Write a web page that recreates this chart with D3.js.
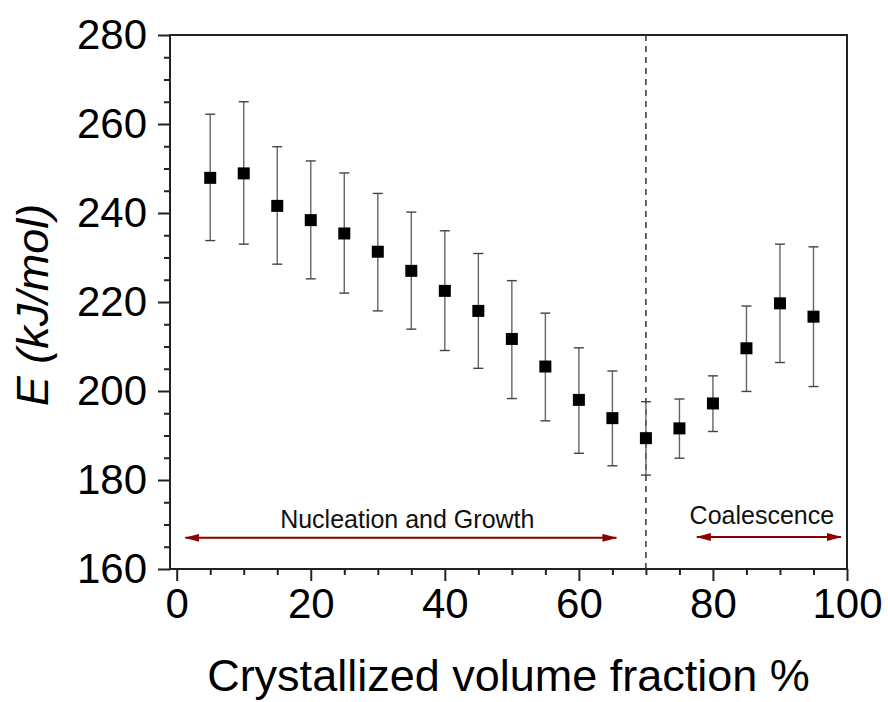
<!DOCTYPE html>
<html>
<head>
<meta charset="utf-8">
<script src="https://cdn.jsdelivr.net/npm/d3@7"></script>
<style>
  body { margin: 0; background: #fff; }
  svg { display: block; font-family: "Liberation Sans", Arial, sans-serif; }
</style>
</head>
<body>
<svg id="chart" width="888" height="702"></svg>
<script>
// crystallized volume fraction (%)
const fraction = [5, 10, 15, 20, 25, 30, 35, 40, 45, 50, 55, 60, 65, 70, 75, 80, 85, 90, 95];
// activation energy E (kJ/mol)
const energy = [247.9, 248.9, 241.6, 238.4, 235.4, 231.3, 227.0, 222.5, 218.0, 211.7, 205.5, 198.0, 193.9, 189.4, 191.6, 197.2, 209.6, 219.7, 216.7];
const errUpper = [262.2, 265.0, 254.9, 251.7, 249.0, 244.4, 240.2, 236.0, 230.9, 224.8, 217.5, 209.7, 204.5, 197.6, 198.2, 203.4, 219.1, 233.0, 232.4];
const errLower = [233.8, 233.0, 228.5, 225.2, 222.0, 218.0, 213.9, 209.1, 205.1, 198.3, 193.3, 186.0, 183.2, 181.1, 184.9, 190.9, 199.9, 206.4, 201.0];

const xTicks = [0, 20, 40, 60, 80, 100];
const yTicks = [160, 180, 200, 220, 240, 260, 280];
const boundary = 70;

// regions: label, arrow start, arrow end, arrow level, label position
const regionNames = ["Nucleation and Growth", "Coalescence"];
const regionFrom = [1.3, 77.6];
const regionTo = [65.6, 99.1];
const regionLevel = [167.0, 167.2];
const labelX = [34.4, 87.3];
const labelY = [169.3, 170.2];

const svg = d3.select("#chart");
const margin = { top: 35, right: 41, bottom: 133, left: 170 };
const width = 888 - margin.left - margin.right;
const height = 702 - margin.top - margin.bottom;

const x = d3.scaleLinear().domain([-1, 100]).range([margin.left, margin.left + width]);
const y = d3.scaleLinear().domain([160, 280]).range([margin.top + height, margin.top]);

const minorX = d3.range(0, 101, 5).filter(d => d % 20 !== 0);
const minorY = d3.range(160, 281, 5).filter(d => d % 20 !== 0);

// arrow head
svg.append("defs").append("marker")
  .attr("id", "head")
  .attr("viewBox", "0 0 15 8")
  .attr("refX", 14)
  .attr("refY", 4)
  .attr("markerWidth", 15)
  .attr("markerHeight", 8)
  .attr("markerUnits", "userSpaceOnUse")
  .attr("orient", "auto-start-reverse")
  .append("path")
  .attr("d", "M0,0 L15,4 L0,8 Z")
  .attr("fill", "#8b0000");

// frame
svg.append("rect")
  .attr("x", margin.left).attr("y", margin.top)
  .attr("width", width).attr("height", height)
  .attr("fill", "none").attr("stroke", "#222").attr("stroke-width", 2);

// x axis
const gx = svg.append("g")
  .attr("transform", "translate(0," + (margin.top + height) + ")")
  .call(d3.axisBottom(x).tickValues(xTicks).tickSize(12).tickPadding(7));
svg.append("g")
  .attr("transform", "translate(0," + (margin.top + height) + ")")
  .call(d3.axisBottom(x).tickValues(minorX).tickSize(6).tickFormat(""));

// y axis
const gy = svg.append("g")
  .attr("transform", "translate(" + margin.left + ",0)")
  .call(d3.axisLeft(y).tickValues(yTicks).tickSize(12).tickPadding(11));
svg.append("g")
  .attr("transform", "translate(" + margin.left + ",0)")
  .call(d3.axisLeft(y).tickValues(minorY).tickSize(6).tickFormat(""));

svg.selectAll(".domain").remove();
svg.selectAll(".tick line").attr("stroke", "#222").attr("stroke-width", 2);
svg.selectAll(".tick text")
  .attr("fill", "#000")
  .style("font-size", "42px")
  .style("font-family", "'Liberation Sans', Arial, sans-serif");

// axis titles
svg.append("text")
  .attr("x", margin.left + width / 2)
  .attr("y", 691)
  .attr("text-anchor", "middle")
  .style("font-size", "45px")
  .text("Crystallized volume fraction %");

const yt = svg.append("text")
  .attr("transform", "translate(48," + 305 + ") rotate(-90)")
  .attr("text-anchor", "middle")
  .style("font-size", "45px")
  .style("font-style", "italic");
yt.append("tspan").text("E (kJ/mol)");

// boundary line
svg.append("line")
  .attr("x1", x(boundary)).attr("x2", x(boundary))
  .attr("y1", margin.top).attr("y2", margin.top + height)
  .attr("stroke", "#333").attr("stroke-width", 1.5)
  .attr("stroke-dasharray", "6,5");

// region arrows and labels
regionNames.forEach((name, i) => {
  svg.append("line")
    .attr("x1", x(regionFrom[i])).attr("x2", x(regionTo[i]))
    .attr("y1", y(regionLevel[i])).attr("y2", y(regionLevel[i]))
    .attr("stroke", "#8b0000").attr("stroke-width", 2)
    .attr("marker-start", "url(#head)")
    .attr("marker-end", "url(#head)");
  svg.append("text")
    .attr("x", x(labelX[i])).attr("y", y(labelY[i]))
    .attr("text-anchor", "middle")
    .style("font-size", "25px")
    .attr("fill", "#111")
    .text(name);
});

// error bars
const bars = svg.append("g").selectAll("g")
  .data(fraction)
  .join("g");
bars.append("line")
  .attr("x1", d => x(d)).attr("x2", d => x(d))
  .attr("y1", (d, i) => y(errUpper[i])).attr("y2", (d, i) => y(errLower[i]))
  .attr("stroke", "#666").attr("stroke-width", 1.4);
bars.append("line")
  .attr("x1", d => x(d) - 5).attr("x2", d => x(d) + 5)
  .attr("y1", (d, i) => y(errUpper[i])).attr("y2", (d, i) => y(errUpper[i]))
  .attr("stroke", "#444").attr("stroke-width", 1.4);
bars.append("line")
  .attr("x1", d => x(d) - 5).attr("x2", d => x(d) + 5)
  .attr("y1", (d, i) => y(errLower[i])).attr("y2", (d, i) => y(errLower[i]))
  .attr("stroke", "#444").attr("stroke-width", 1.4);

// markers
svg.append("g").selectAll("rect")
  .data(fraction)
  .join("rect")
  .attr("x", d => x(d) - 6)
  .attr("y", (d, i) => y(energy[i]) - 6)
  .attr("width", 12).attr("height", 12)
  .attr("fill", "#000");
</script>
</body>
</html>
